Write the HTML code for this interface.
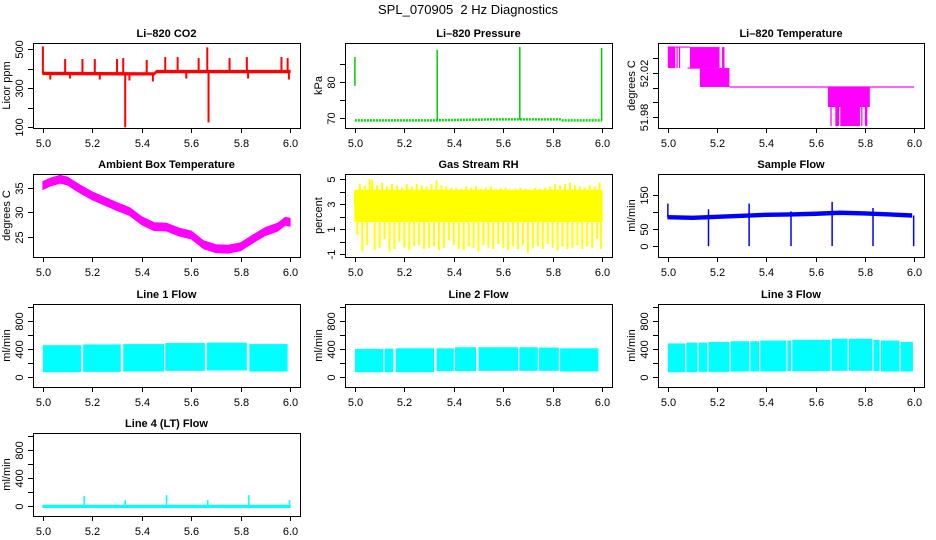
<!DOCTYPE html>
<html><head><meta charset="utf-8"><style>
html,body{margin:0;padding:0;background:#fff;}
svg{display:block;font-family:"Liberation Sans",sans-serif;}
</style></head><body>
<svg id="chart" width="936" height="540" viewBox="0 0 936 540" xmlns="http://www.w3.org/2000/svg">
<rect x="0" y="0" width="936" height="540" fill="#fff"/>
<text x="468" y="14" font-size="13" text-anchor="middle">SPL_070905&#160; 2 Hz Diagnostics</text>
</svg>
<script>
// ---- shared axis data ----
const xTicks = [5.0, 5.2, 5.4, 5.6, 5.8, 6.0];
const xTickLabels = ["5.0", "5.2", "5.4", "5.6", "5.8", "6.0"];
// ---- CO2 ----
const co2T = [5.0, 5.45, 5.46, 6.0];
const co2Lo = [370, 368, 380, 380];
const co2Hi = [382, 380, 392, 392];
const co2SpikeT = [5.0, 5.09, 5.16, 5.21, 5.30, 5.325, 5.333, 5.42, 5.495, 5.545, 5.63, 5.665, 5.67, 5.755, 5.825, 5.965, 5.99, 5.03, 5.11, 5.23, 5.35, 5.445, 5.58, 5.83, 5.995];
const co2SpikeV = [515, 450, 450, 450, 450, 455, 100, 445, 460, 460, 455, 510, 125, 455, 460, 460, 455, 345, 350, 345, 340, 335, 350, 350, 345];
const co2Ticks = [100, 200, 300, 400, 500];
const co2TickLabels = ["100", "", "300", "", "500"];
// ---- Pressure ----
const prT = [5.0, 5.3, 5.56, 5.83, 5.84, 6.0];
const prV = [69.3, 69.3, 69.6, 69.6, 69.3, 69.3];
const prSpikeT = [5.0, 5.333, 5.667, 5.998];
const prSpikeLo = [78.9, 69.3, 69.5, 69.3];
const prSpikeHi = [86.9, 88.9, 89.7, 89.4];
const prTicks = [70, 75, 80, 85];
const prTickLabels = ["70", "", "80", ""];
// ---- Li-820 temperature ----
const tmpTicks = [52.0333, 52.02, 52.0067, 51.9933, 51.98];
const tmpTickLabels = ["", "52.02", "", "", "51.98"];
const tmpBandStart = [5.0, 5.035, 5.045, 5.09, 5.22, 5.13, 5.65, 5.66, 5.68, 5.70, 5.785, 5.80];
const tmpBandEnd = [5.03, 5.04, 5.05, 5.21, 5.23, 5.25, 5.82, 5.665, 5.695, 5.78, 5.79, 5.81];
const tmpBandLo = [52.0245, 52.0245, 52.0245, 52.0245, 52.0245, 52.0073, 51.9891, 51.9718, 51.9718, 51.9718, 51.9718, 51.9718];
const tmpBandHi = [52.0436, 52.0436, 52.0436, 52.0436, 52.0436, 52.0245, 52.0073, 51.9891, 51.9891, 51.9891, 51.9891, 51.9891];
const tmpLineStart = [5.0, 5.08, 5.25];
const tmpLineEnd = [5.09, 5.13, 6.0];
const tmpLineV = [52.0436, 52.0245, 52.0073];
// ---- Ambient box temperature ----
const ambT = [5.0, 5.03, 5.07, 5.1, 5.15, 5.2, 5.25, 5.3, 5.35, 5.4, 5.45, 5.5, 5.55, 5.6, 5.65, 5.7, 5.75, 5.8, 5.85, 5.9, 5.95, 5.98, 6.0];
const ambV = [35.5, 36.2, 36.8, 36.4, 34.8, 33.4, 32.3, 31.2, 30.2, 28.3, 27.1, 27.0, 26.0, 25.4, 23.4, 22.6, 22.5, 23.0, 24.6, 26.1, 27.0, 28.2, 28.0];
const ambTicks = [25, 30, 35];
const ambTickLabels = ["25", "30", "35"];
// ---- Gas stream RH ----
const rhCoreLo = 1.6, rhCoreHi = 4.1;
const rhUpT = [5.0,5.02,5.04,5.06,5.07,5.09,5.11,5.13,5.15,5.17,5.19,5.21,5.23,5.25,5.27,5.29,5.31,5.33,5.35,5.37,5.39,5.41,5.43,5.45,5.47,5.49,5.51,5.53,5.55,5.57,5.59,5.61,5.63,5.65,5.67,5.69,5.71,5.73,5.75,5.77,5.79,5.81,5.83,5.85,5.87,5.89,5.91,5.93,5.95,5.97,5.99];
const rhUpV = [4.0,4.6,4.5,5.0,4.9,4.5,4.7,4.4,4.6,4.5,4.3,4.6,4.4,4.6,4.5,4.4,4.6,4.9,4.5,4.4,4.3,4.3,4.2,4.4,4.3,4.4,4.2,4.3,4.4,4.2,4.3,4.3,4.1,4.2,4.3,4.2,4.1,4.3,4.2,4.3,4.4,4.6,4.5,4.6,4.7,4.5,4.4,4.3,4.5,4.4,4.7];
const rhDnT = [5.01,5.03,5.05,5.08,5.10,5.12,5.14,5.16,5.18,5.20,5.22,5.24,5.26,5.28,5.30,5.32,5.34,5.36,5.38,5.40,5.42,5.44,5.46,5.48,5.50,5.52,5.54,5.56,5.58,5.60,5.62,5.64,5.66,5.68,5.70,5.72,5.74,5.76,5.78,5.80,5.82,5.84,5.86,5.88,5.90,5.92,5.94,5.96,5.98,5.995];
const rhDnV = [0.5,-0.8,-0.3,-0.7,-0.5,0.2,-0.8,-0.6,0.0,-0.5,-0.7,-0.4,-0.3,-0.6,-0.5,-0.4,-0.7,-0.5,0.1,-0.3,-0.6,-0.7,-0.4,-0.5,-0.8,-0.3,-0.5,-0.6,-0.2,-0.5,-0.7,-0.4,-0.6,-0.3,-0.9,-0.5,-0.4,-0.6,-0.2,-0.5,-0.7,-0.4,-0.6,-0.5,-0.3,-0.6,-0.4,-0.5,0.2,-0.6];
const rhTicks = [-1, 0, 1, 2, 3, 4, 5];
const rhTickLabels = ["-1", "", "1", "", "3", "", "5"];
// ---- Sample flow ----
const sfT = [5.0, 5.1, 5.2, 5.3, 5.4, 5.5, 5.6, 5.7, 5.8, 5.9, 5.99];
const sfV = [85, 83, 86, 89, 92, 93, 95, 98, 96, 93, 90];
const sfSpikeT = [5.0, 5.165, 5.165, 5.33, 5.33, 5.5, 5.5, 5.667, 5.667, 5.833, 5.833, 5.998];
const sfSpikeV = [125, 108, 0, 125, 0, 102, 0, 130, 0, 112, 0, 0];
const sfTicks = [0, 50, 100, 150];
const sfTickLabels = ["0", "50", "", "150"];
// ---- Line flows ----
const flowTicks = [0, 200, 400, 600, 800, 1000];
const flowTickLabels = ["0", "", "400", "", "800", ""];
const l1Start = [5.0, 5.163, 5.325, 5.495, 5.663, 5.835];
const l1End = [5.155, 5.315, 5.49, 5.655, 5.825, 5.99];
const l1Hi = [455, 465, 470, 485, 490, 470];
const l1Lo = [70, 75, 80, 90, 95, 80];
const l2Start = [5.0, 5.12, 5.165, 5.33, 5.405, 5.5, 5.665, 5.745, 5.83];
const l2End = [5.115, 5.155, 5.32, 5.4, 5.49, 5.66, 5.74, 5.825, 5.985];
const l2Hi = [400, 405, 410, 410, 425, 425, 425, 420, 410];
const l2Lo = [70, 70, 70, 85, 85, 90, 90, 90, 80];
const l3Start = [5.0, 5.075, 5.125, 5.165, 5.255, 5.335, 5.375, 5.485, 5.505, 5.665, 5.735, 5.835, 5.865, 5.945];
const l3End = [5.07, 5.12, 5.16, 5.25, 5.33, 5.37, 5.48, 5.5, 5.66, 5.73, 5.83, 5.86, 5.94, 5.995];
const l3Hi = [480, 490, 490, 500, 510, 510, 520, 520, 530, 545, 545, 530, 520, 500];
const l3Lo = [70, 70, 75, 75, 80, 80, 80, 85, 85, 90, 90, 85, 80, 80];
const l4SpikeT = [5.167, 5.333, 5.5, 5.667, 5.833, 5.998];
const l4SpikeV = [150, 90, 160, 90, 160, 90];

const NS = "http://www.w3.org/2000/svg";
const svg = document.getElementById("chart");
function mk(tag, attrs, parent) {
  const e = document.createElementNS(NS, tag);
  for (const k in attrs) e.setAttribute(k, attrs[k]);
  (parent || svg).appendChild(e);
  return e;
}
const colL = [33, 345, 658], colR = [300, 612, 924];
const rowT = [43, 174, 304, 433], rowB = [128, 257, 387, 516];

function panel(name, title, ylab, r, c, ymin, ymax, yTicks, yLabels) {
  const L = colL[c], R = colR[c], T = rowT[r], B = rowB[r];
  const g = mk("g", {});
  
  
  const sx = v => L + (v - 4.96) / 1.08 * (R - L);
  const sy = v => T + (ymax - v) / (ymax - ymin) * (B - T);
  const plot = mk("g", {}, g);
  
  
  const frame = mk("rect", {x: L + .5, y: T + .5, width: R - L, height: B - T, fill: "none", stroke: "#000"}, g);
  
  
  const t = mk("text", {x: (L + R) / 2, y: T - 6, "font-size": 11, "font-weight": "bold", "text-anchor": "middle"}, g);
  t.textContent = title;
  
  
  const yl = mk("text", {x: 0, y: 0, "font-size": 11, "text-anchor": "middle", transform: `translate(${L - 23},${(T + B) / 2}) rotate(-90)`}, g);
  yl.textContent = ylab;
  
  
  const xa = mk("g", {}, g);
  
  
  xTicks.forEach((v, i) => {
    const x = Math.round(sx(v)) + .5;
    mk("line", {x1: x, x2: x, y1: B, y2: B + 5, stroke: "#000"}, xa);
    const tl = mk("text", {x: x, y: B + 19, "font-size": 11, "text-anchor": "middle"}, xa);
    tl.textContent = xTickLabels[i];
    
    
  });
  const ya = mk("g", {}, g);
  
  
  yTicks.forEach((v, i) => {
    const y = Math.round(sy(v)) + .5;
    mk("line", {x1: L - 5, x2: L, y1: y, y2: y, stroke: "#000"}, ya);
    if (yLabels[i]) {
      const tl = mk("text", {x: 0, y: 0, "font-size": 11, "text-anchor": "middle", transform: `translate(${L - 10},${y}) rotate(-90)`}, ya);
      tl.textContent = yLabels[i];
      
      
    }
  });
  return {sx, sy, plot, g};
}
function envelope(p, ts, lo, hi, color, name) {
  let pts = ts.map((t, i) => p.sx(t) + "," + p.sy(hi[i]));
  for (let i = ts.length - 1; i >= 0; i--) pts.push(p.sx(ts[i]) + "," + p.sy(lo[i]));
  const e = mk("polygon", {points: pts.join(" "), fill: color, stroke: color, "stroke-width": 1}, p.plot);
  
  
}
function vline(p, t, v0, v1, color, w, name) {
  const x = p.sx(t);
  const e = mk("line", {x1: x, x2: x, y1: p.sy(v0), y2: p.sy(v1), stroke: color, "stroke-width": w}, p.plot);
  
  
}
function interp(ts, vs, t) {
  for (let i = 1; i < ts.length; i++) if (t <= ts[i]) {
    const f = (t - ts[i - 1]) / ((ts[i] - ts[i - 1]) || 1);
    return vs[i - 1] + f * (vs[i] - vs[i - 1]);
  }
  return vs[vs.length - 1];
}

// CO2
let p = panel("co2-panel", "Li\u2013820 CO2", "Licor ppm", 0, 0, 96.4, 532.3, co2Ticks, co2TickLabels);
envelope(p, co2T, co2Lo, co2Hi, "#ff0000", "co2-series");
co2SpikeT.forEach((t, i) => vline(p, t, interp(co2T, co2Lo, t) + 6, co2SpikeV[i], "#ff0000", 2, "co2-spike"));

// Pressure
p = panel("pressure-panel", "Li\u2013820 Pressure", "kPa", 0, 1, 67.2, 90.8, prTicks, prTickLabels);
{
  const pts = prT.map((t, i) => p.sx(t) + "," + p.sy(prV[i])).join(" ");
  const e = mk("polyline", {points: pts, fill: "none", stroke: "#00dd00", "stroke-width": 2.5, "stroke-dasharray": "2 1"}, p.plot);
  
  
}
prSpikeT.forEach((t, i) => vline(p, t, prSpikeLo[i], prSpikeHi[i], "#00cc00", 1.5, "pressure-spike"));

// Li-820 temperature
p = panel("li820-temp-panel", "Li\u2013820 Temperature", "degrees C", 0, 2, 51.970, 52.0473, tmpTicks, tmpTickLabels);
tmpBandStart.forEach((s, i) => {
  const x0 = p.sx(s), x1 = Math.max(p.sx(tmpBandEnd[i]), x0 + 1);
  const y0 = p.sy(tmpBandHi[i]), y1 = p.sy(tmpBandLo[i]);
  const e = mk("rect", {x: x0, y: y0, width: x1 - x0, height: y1 - y0, fill: "#ff00ff"}, p.plot);
  
  
});
tmpLineStart.forEach((s, i) => {
  const y = p.sy(tmpLineV[i]);
  const e = mk("line", {x1: p.sx(s), x2: p.sx(tmpLineEnd[i]), y1: y, y2: y, stroke: "#ff00ff", "stroke-width": 1.2}, p.plot);
  
  
});

// Ambient
p = panel("ambient-temp-panel", "Ambient Box Temperature", "degrees C", 1, 0, 20.9, 37.86, ambTicks, ambTickLabels);
envelope(p, ambT, ambV.map(v => v - 0.8), ambV.map(v => v + 0.8), "#ff00ff", "ambient-temp-series");

// Gas RH
p = panel("gas-rh-panel", "Gas Stream RH", "percent", 1, 1, -1.24, 5.4, rhTicks, rhTickLabels);
envelope(p, [5.0, 6.0], [rhCoreLo, rhCoreLo], [rhCoreHi, rhCoreHi], "#ffff00", "gas-rh-core");
rhUpT.forEach((t, i) => vline(p, t, 3, rhUpV[i], "#ffff00", 2, "gas-rh-spike-up"));
rhDnT.forEach((t, i) => vline(p, t, 3, rhDnV[i], "#ffff00", 2, "gas-rh-spike-down"));

// Sample flow
p = panel("sample-flow-panel", "Sample Flow", "ml/min", 1, 2, -32, 211.8, sfTicks, sfTickLabels);
envelope(p, sfT, sfV.map(v => v - 5), sfV.map(v => v + 5), "#0000ff", "sample-flow-series");
sfSpikeT.forEach((t, i) => vline(p, t, interp(sfT, sfV, t), sfSpikeV[i], "#0000ff", 1.5, "sample-flow-spike"));

// Line flows
function flowPanel(name, title, r, c, st, en, hi, lo) {
  const q = panel(name, title, "ml/min", r, c, -140, 1040, flowTicks, flowTickLabels);
  st.forEach((s, i) => {
    const x0 = q.sx(s), x1 = q.sx(en[i]);
    const e = mk("rect", {x: x0, y: q.sy(hi[i]), width: x1 - x0, height: q.sy(lo[i]) - q.sy(hi[i]), fill: "#00ffff"}, q.plot);
    
    
  });
  return q;
}
flowPanel("line1-flow-panel", "Line 1 Flow", 2, 0, l1Start, l1End, l1Hi, l1Lo);
flowPanel("line2-flow-panel", "Line 2 Flow", 2, 1, l2Start, l2End, l2Hi, l2Lo);
flowPanel("line3-flow-panel", "Line 3 Flow", 2, 2, l3Start, l3End, l3Hi, l3Lo);
p = panel("line4-flow-panel", "Line 4 (LT) Flow", "ml/min", 3, 0, -135, 1040, flowTicks, flowTickLabels);
envelope(p, [5.0, 6.0], [-15, -15], [15, 15], "#00ffff", "line4-flow-series");
l4SpikeT.forEach((t, i) => vline(p, t, 0, l4SpikeV[i], "#00ffff", 1.5, "line4-flow-spike"));
</script>
</body></html>
